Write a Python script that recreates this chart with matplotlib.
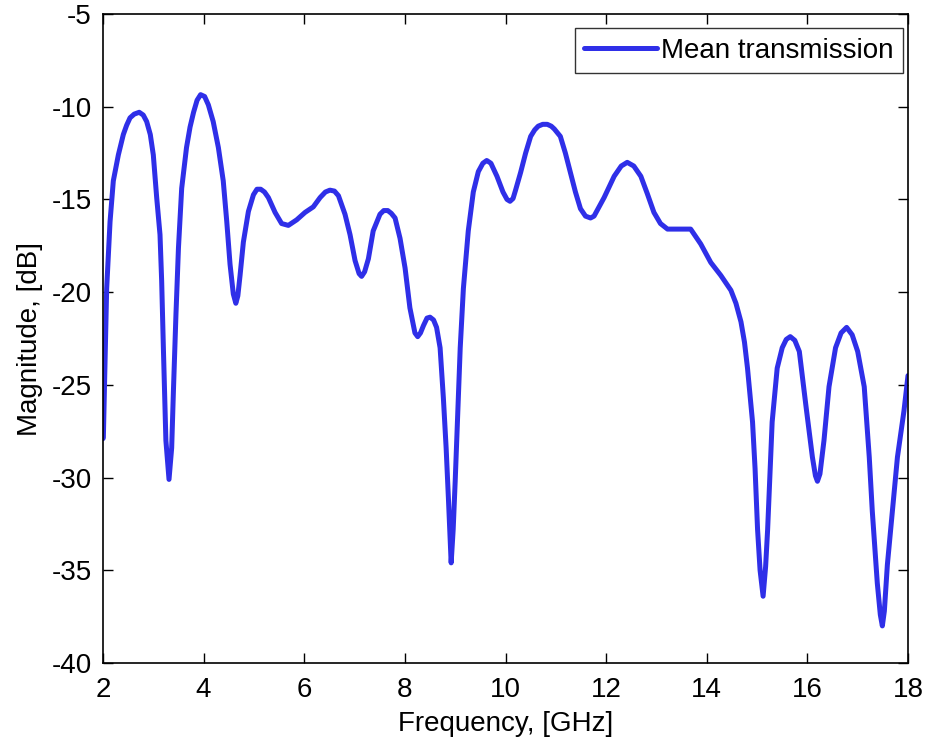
import matplotlib
matplotlib.use("Agg")
import matplotlib.pyplot as plt

freq_ghz = [2.0, 2.007, 2.04, 2.073, 2.14, 2.205, 2.305, 2.404, 2.47, 2.537, 2.62, 2.72, 2.80, 2.868,
            2.94, 3.0, 3.067, 3.133, 3.166, 3.2, 3.25, 3.312, 3.365, 3.40, 3.45, 3.50, 3.564, 3.66,
            3.73, 3.80, 3.87, 3.94, 4.02, 4.094, 4.19, 4.293, 4.39, 4.46, 4.525, 4.59, 4.64, 4.68,
            4.724, 4.79, 4.89, 4.99, 5.06, 5.134, 5.21, 5.287, 5.42, 5.55, 5.684, 5.85, 6.016, 6.18,
            6.315, 6.42, 6.51, 6.60, 6.68, 6.81, 6.91, 7.01, 7.09, 7.14, 7.20, 7.275, 7.37, 7.505,
            7.58, 7.66, 7.73, 7.805, 7.904, 8.004, 8.10, 8.20, 8.255, 8.31, 8.37, 8.44, 8.50, 8.57,
            8.63, 8.70, 8.765, 8.82, 8.865, 8.92, 8.96, 9.0, 9.05, 9.10, 9.163, 9.26, 9.36, 9.46,
            9.55, 9.627, 9.71, 9.83, 9.95, 10.03, 10.09, 10.15, 10.2, 10.30, 10.40, 10.50, 10.58,
            10.65, 10.74, 10.83, 10.91, 10.97, 11.09, 11.19, 11.29, 11.39, 11.49, 11.59, 11.69, 11.76,
            11.82, 11.96, 12.16, 12.30, 12.42, 12.55, 12.69, 12.82, 12.95, 13.08, 13.22, 13.45, 13.68,
            13.78, 13.88, 14.08, 14.28, 14.48, 14.58, 14.68, 14.75, 14.81, 14.91, 14.96, 15.01, 15.06,
            15.12, 15.17, 15.21, 15.30, 15.40, 15.50, 15.58, 15.66, 15.75, 15.84, 15.97, 16.10, 16.16,
            16.20, 16.25, 16.33, 16.43, 16.56, 16.67, 16.78, 16.89, 17.0, 17.13, 17.23, 17.29, 17.39,
            17.45, 17.49, 17.53, 17.59, 17.69, 17.79, 17.92, 18.0]
mean_transmission_db = [-27.9, -27.85, -23.9, -19.8, -16.2, -14.0, -12.6, -11.5, -11.0, -10.6, -10.4,
                        -10.3, -10.45, -10.8, -11.5, -12.6, -14.9, -16.9, -19.4, -23.0, -28.0, -30.1,
                        -28.4, -25.3, -21.2, -17.6, -14.4, -12.2, -11.1, -10.3, -9.65, -9.35, -9.45,
                        -9.9, -10.8, -12.2, -14.0, -16.2, -18.5, -20.1, -20.6, -20.2, -19.1, -17.3,
                        -15.65, -14.75, -14.45, -14.45, -14.6, -14.9, -15.7, -16.3, -16.4, -16.1,
                        -15.7, -15.4, -14.9, -14.6, -14.5, -14.55, -14.8, -15.8, -16.9, -18.3, -19.0,
                        -19.15, -18.9, -18.2, -16.7, -15.8, -15.6, -15.6, -15.75, -16.0, -17.1, -18.7,
                        -20.85, -22.2, -22.4, -22.2, -21.8, -21.4, -21.35, -21.5, -21.9, -23.0, -25.7,
                        -28.4, -31.1, -34.6, -32.8, -30.2, -26.6, -23.0, -19.8, -16.7, -14.6, -13.5,
                        -13.05, -12.9, -13.05, -13.75, -14.6, -15.0, -15.1, -14.95, -14.5, -13.55,
                        -12.5, -11.6, -11.25, -11.05, -10.95, -10.95, -11.05, -11.2, -11.6, -12.5,
                        -13.55, -14.6, -15.5, -15.9, -16.0, -15.9, -15.6, -14.9, -13.75, -13.2, -13.0,
                        -13.2, -13.75, -14.7, -15.7, -16.3, -16.6, -16.6, -16.6, -17.0, -17.4, -18.4,
                        -19.1, -19.9, -20.6, -21.6, -22.7, -24.1, -27.0, -29.5, -32.8, -35.0, -36.4,
                        -34.8, -32.8, -27.0, -24.1, -23.0, -22.55, -22.4, -22.6, -23.2, -26.1, -28.9,
                        -29.9, -30.2, -29.8, -28.0, -25.1, -23.0, -22.2, -21.9, -22.3, -23.2, -25.1,
                        -28.9, -31.8, -35.7, -37.4, -38.0, -37.2, -34.7, -31.8, -28.9, -26.4, -24.5]
x_ticks = [2, 4, 6, 8, 10, 12, 14, 16, 18]
y_ticks = [-40, -35, -30, -25, -20, -15, -10, -5]

plt.rcParams["font.family"] = ["Liberation Sans", "DejaVu Sans"]
plt.rcParams["axes.unicode_minus"] = False

fig = plt.figure(figsize=(9.25, 7.46), dpi=100)
ax = fig.add_axes([103 / 925, 1 - 663 / 746, (908 - 103) / 925, (663 - 14) / 746])
ax.plot(freq_ghz, mean_transmission_db, color="#2F2FE8", lw=3.6, label="Mean transmission",
        solid_joinstyle="round", solid_capstyle="round")
ax.set_xlim(2, 18)
ax.set_ylim(-40, -5)
ax.set_xticks(x_ticks)
ax.set_yticks(y_ticks)
ax.tick_params(direction="in", top=True, right=True, length=7, width=1, labelsize=20)
ax.tick_params(axis="x", pad=10)
ax.tick_params(axis="y", pad=8)
for s in ax.spines.values():
    s.set_linewidth(1.2)
ax.set_xlabel("Frequency, [GHz]", fontsize=20, labelpad=6)
ax.set_ylabel("Magnitude, [dB]", fontsize=20, labelpad=6)
leg = ax.legend(loc="upper right", bbox_to_anchor=(0.9938, 0.9784), fontsize=20, frameon=True,
                fancybox=False, edgecolor="black", handlelength=2.6, handletextpad=0.15,
                borderpad=0.35, borderaxespad=0.0)
leg.get_frame().set_linewidth(1.0)
fig.savefig("out.png", dpi=100)
